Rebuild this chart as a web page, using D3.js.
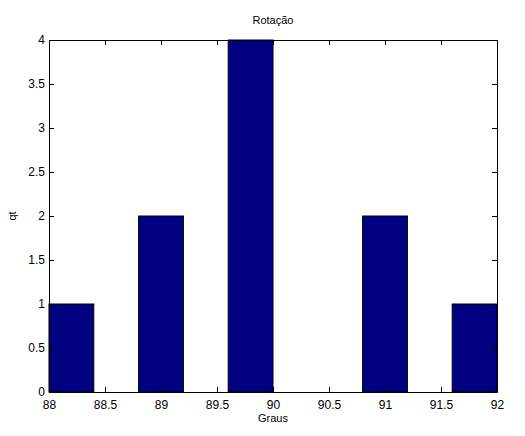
<!DOCTYPE html>
<html>
<head>
<meta charset="utf-8">
<script src="https://cdn.jsdelivr.net/npm/d3@7"></script>
<style>
  body { margin: 0; background: #fff; }
  text { font-family: "Liberation Sans", Arial, sans-serif; font-size: 11px; fill: #000; }
</style>
</head>
<body>
<div id="chart"></div>
<script>
// histogram bins (start, end) and counts
const binStarts = [88, 88.8, 89.6, 90.8, 91.6];
const binEnds = [88.4, 89.2, 90.0, 91.2, 92.0];
const counts = [1, 2, 4, 2, 1];
const xTicks = [88, 88.5, 89, 89.5, 90, 90.5, 91, 91.5, 92];
const yTicks = [0, 0.5, 1, 1.5, 2, 2.5, 3, 3.5, 4];

const width = 525, height = 436;
const margin = { left: 49, right: 28, top: 40, bottom: 44 };

const svg = d3.select("#chart").append("svg")
  .attr("width", width)
  .attr("height", height);

const x = d3.scaleLinear().domain([88, 92]).range([margin.left, width - margin.right]);
const y = d3.scaleLinear().domain([0, 4]).range([height - margin.bottom, margin.top]);

// bars
svg.selectAll("rect.bar")
  .data(counts)
  .enter()
  .append("rect")
  .attr("class", "bar")
  .attr("x", (d, i) => x(binStarts[i]))
  .attr("width", (d, i) => x(binEnds[i]) - x(binStarts[i]))
  .attr("y", d => y(d))
  .attr("height", d => y(0) - y(d))
  .attr("fill", "#000080")
  .attr("stroke", "#000")
  .attr("stroke-width", 1);

// axes, MATLAB style: ticks inward on all four sides
const tick = 5;
svg.append("g")
  .attr("transform", `translate(0,${y(0)})`)
  .call(d3.axisBottom(x).tickValues(xTicks).tickFormat(d3.format("")).tickSizeInner(-tick).tickSizeOuter(0).tickPadding(8));
svg.append("g")
  .attr("transform", `translate(0,${y(4)})`)
  .call(d3.axisTop(x).tickValues(xTicks).tickFormat("").tickSizeInner(-tick).tickSizeOuter(0));
svg.append("g")
  .attr("transform", `translate(${x(88)},0)`)
  .call(d3.axisLeft(y).tickValues(yTicks).tickFormat(d3.format("")).tickSizeInner(-tick).tickSizeOuter(0).tickPadding(4));
svg.append("g")
  .attr("transform", `translate(${x(92)},0)`)
  .call(d3.axisRight(y).tickValues(yTicks).tickFormat("").tickSizeInner(-tick).tickSizeOuter(0));

svg.selectAll(".domain").attr("stroke", "#000");
svg.selectAll(".tick line").attr("stroke", "#000");
svg.selectAll(".tick text").style("font-family", "'Liberation Sans', Arial, sans-serif").style("font-size", "12px");

// labels
svg.append("text").attr("x", (x(88) + x(92)) / 2).attr("y", 24)
  .attr("text-anchor", "middle").text("Rotação");
svg.append("text").attr("x", (x(88) + x(92)) / 2).attr("y", 422)
  .attr("text-anchor", "middle").text("Graus");
svg.append("text")
  .attr("transform", `translate(16,${(y(0) + y(4)) / 2}) rotate(-90)`)
  .attr("text-anchor", "middle").text("qt");
</script>
</body>
</html>
